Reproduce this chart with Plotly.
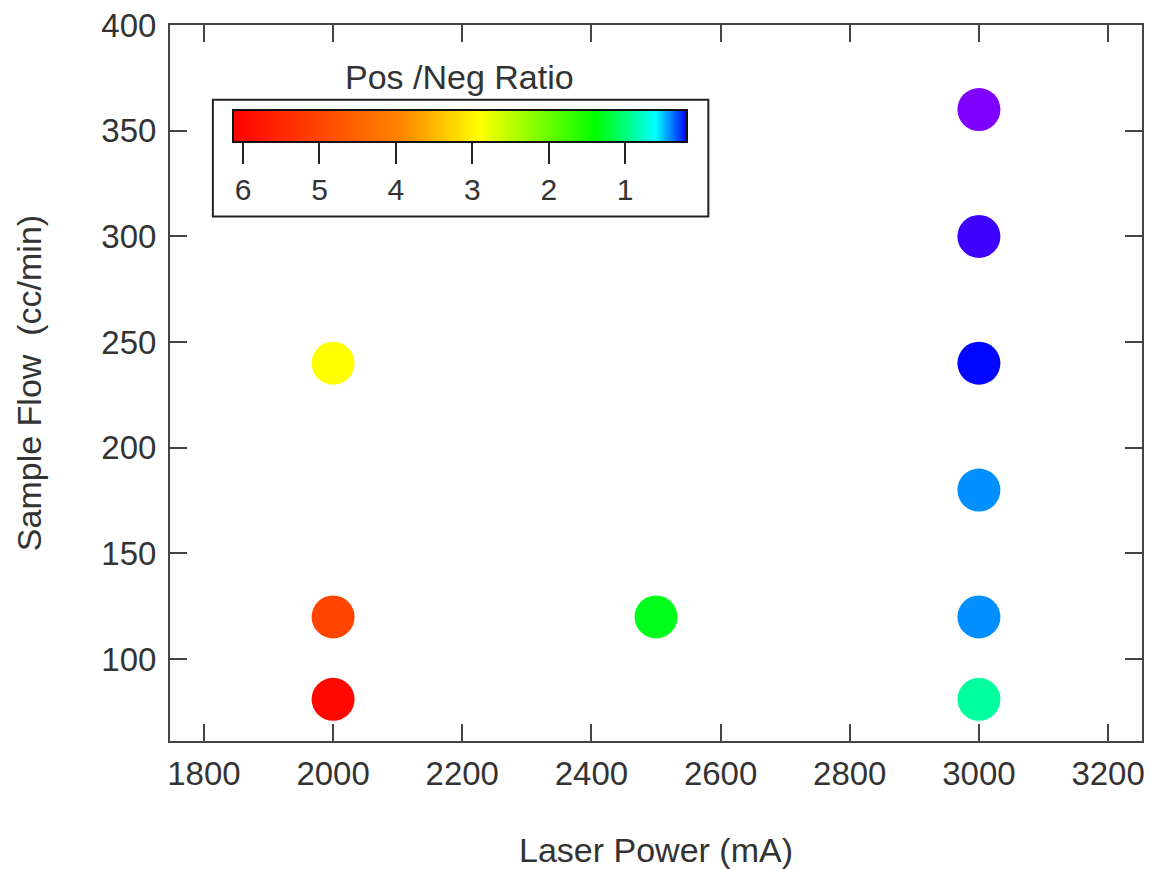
import plotly.graph_objects as go

# ---- data ----
laser_power = [2000, 2000, 2000, 2500, 3000, 3000, 3000, 3000, 3000, 3000]
sample_flow = [81, 120, 240, 120, 81, 120, 180, 240, 300, 360]
pos_neg_ratio = [6.0, 5.0, 2.9, 1.3, 0.9, 0.42, 0.42, 0.2, 0.1, 0.0]

cb_ticks = [6, 5, 4, 3, 2, 1]

# ---- colour map (value, colour) ----
cmap_vals = [0.0, 0.19, 0.6, 1.38, 2.9, 3.9, 5.0, 6.13]
cmap_cols = ["#8000FF", "#0000FF", "#00FFFF", "#00FF00", "#FFFF00", "#FF8800", "#FF4500", "#FF0000"]
cmin, cmax = 0.0, 6.13
bar_min, bar_max = 0.19, 6.13

point_scale = [[(v - cmin) / (cmax - cmin), c] for v, c in zip(cmap_vals, cmap_cols)]
# colorbar shows only bar_min..bar_max, reversed (6 on the left) using negated values
bar_scale = sorted(
    [[(-v + bar_max) / (bar_max - bar_min), c] for v, c in zip(cmap_vals, cmap_cols) if v >= bar_min],
    key=lambda s: s[0])

FONT = "Liberation Sans, Arial, sans-serif"
TXT = "#333333"
AX = "#444444"

# plot area in pixels
L, R, T, B = 170, 1145, 25, 743
W, H = 1151, 869
def px_x(p): return (p - L) / (R - L)
def px_y(p): return (B - p) / (B - T)

fig = go.Figure()
fig.add_trace(go.Scatter(
    x=laser_power, y=sample_flow, mode="markers",
    marker=dict(size=43, color=pos_neg_ratio, colorscale=point_scale, cmin=cmin, cmax=cmax,
                showscale=False, line=dict(width=0)),
    showlegend=False, hoverinfo="x+y+text", text=[str(v) for v in pos_neg_ratio]))

fig.add_trace(go.Scatter(
    x=[None], y=[None], mode="markers", showlegend=False,
    marker=dict(color=[-bar_max], colorscale=bar_scale, cmin=-bar_max, cmax=-bar_min,
                showscale=True,
                colorbar=dict(orientation="h", lenmode="pixels", len=454, thickness=32,
                              x=px_x(461), xanchor="center", y=px_y(110), yanchor="top",
                              xpad=0, ypad=0, outlinewidth=2, outlinecolor="#111111",
                              borderwidth=0,
                              tickvals=[-t for t in cb_ticks], ticktext=[str(t) for t in cb_ticks],
                              ticks="outside", ticklen=21, tickwidth=2, tickcolor="#222222",
                              tickfont=dict(family=FONT, size=30, color=TXT)))))

axis_common = dict(showgrid=False, zeroline=False, showline=True, linecolor=AX, linewidth=2,
                   mirror="ticks", ticks="inside", ticklen=17, tickwidth=2, tickcolor=AX,
                   tickfont=dict(family=FONT, size=33, color=TXT))

fig.update_xaxes(range=[1747.5, 3252.5], tickvals=[1800, 2000, 2200, 2400, 2600, 2800, 3000, 3200],
                 title=dict(text="Laser Power (mA)", font=dict(family=FONT, size=34, color=TXT), standoff=48),
                 ticklabelstandoff=2, **axis_common)
fig.update_yaxes(range=[61.3, 400], tickvals=[100, 150, 200, 250, 300, 350, 400],
                 title=dict(text="Sample Flow  (cc/min)", font=dict(family=FONT, size=34, color=TXT), standoff=49),
                 ticklabelstandoff=5, **axis_common)

fig.add_shape(type="rect", xref="paper", yref="paper",
              x0=px_x(213), x1=px_x(710), y0=px_y(217), y1=px_y(100),
              line=dict(color="#222222", width=2), fillcolor="rgba(0,0,0,0)", layer="above")
fig.add_annotation(text="Pos /Neg Ratio", xref="paper", yref="paper", x=px_x(460), y=px_y(77),
                   showarrow=False, xanchor="center", yanchor="middle",
                   font=dict(family=FONT, size=34, color=TXT))

fig.update_layout(width=W, height=H, plot_bgcolor="white", paper_bgcolor="white",
                  margin=dict(l=L, r=W - R, t=T, b=H - B))

fig.write_html("out.html")
